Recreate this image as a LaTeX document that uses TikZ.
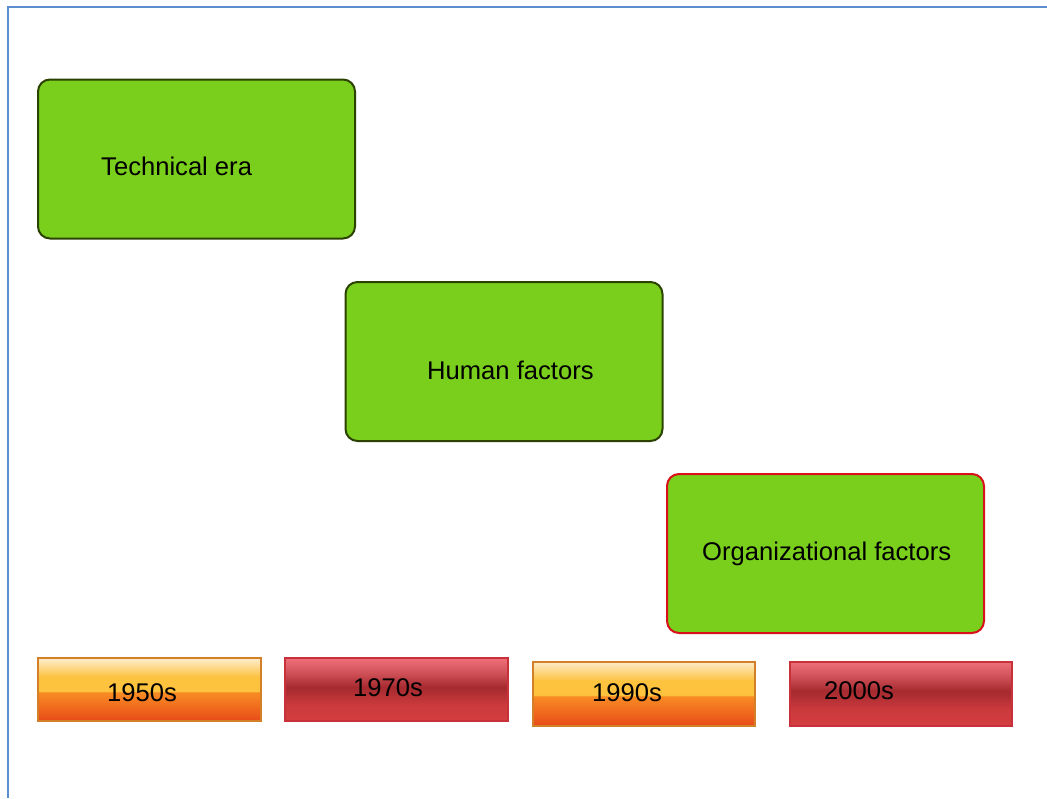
\documentclass[tikz,border=0pt]{standalone}
\usepackage{fontspec}
\setmainfont{Liberation Sans}
\definecolor{frameblue}{HTML}{5B8FD0}
\definecolor{boxgreen}{HTML}{7ACE1C}
\definecolor{darkedge}{HTML}{2B4200}
\definecolor{rededge}{HTML}{D8101A}
\definecolor{obot}{HTML}{E84A18}
\definecolor{olow}{HTML}{F88C24}
\definecolor{omid}{HTML}{FDC23E}
\definecolor{otop}{HTML}{FDEDCC}
\definecolor{oedge}{HTML}{D48028}
\definecolor{rbot}{HTML}{D43E40}
\definecolor{rmid}{HTML}{A52A2F}
\definecolor{rup}{HTML}{D2525A}
\definecolor{rtop}{HTML}{EE7078}
\definecolor{redge}{HTML}{C8303A}
\pgfdeclareverticalshading{orangebar}{100bp}{color(0bp)=(obot); color(25bp)=(obot); color(48bp)=(olow); color(49bp)=(omid); color(60bp)=(omid); color(75bp)=(otop); color(100bp)=(otop)}
\pgfdeclareverticalshading{redbar}{100bp}{color(0bp)=(rbot); color(25bp)=(rbot); color(38bp)=(rbot!80!rmid); color(52bp)=(rmid); color(64bp)=(rup); color(75bp)=(rtop); color(100bp)=(rtop)}
\tikzset{
  era/.style={draw=darkedge, line width=2pt, fill=boxgreen, rounded corners=12pt, minimum width=317pt, minimum height=159pt, anchor=north west, inner sep=0pt, outer sep=0pt},
  eratext/.style={font=\fontsize{25.6}{30}\selectfont, anchor=base west, inner sep=0pt},
  orangebox/.style={draw=oedge, line width=2pt, shading=orangebar, minimum width=223pt, minimum height=63pt, anchor=north west, inner sep=0pt, outer sep=0pt},
  redbox/.style={draw=redge, line width=2pt, shading=redbar, minimum width=223pt, minimum height=63pt, anchor=north west, inner sep=0pt, outer sep=0pt},
}
\begin{document}
\begin{tikzpicture}[x=1pt,y=-1pt]
\useasboundingbox (0,0) rectangle (1047,798);
\coordinate (ftop) at (1047,6.5);
\coordinate (fcorner) at (7.5,6.5);
\coordinate (fbot) at (7.5,798);
\draw[frameblue, line width=2pt] (ftop) -- (fcorner) -- (fbot);
% era boxes
\node[era] (tech) at (38,79.5) {};
\node[era] (human) at (345.5,282) {};
\node[era, draw=rededge] (org) at (667,474) {};
\node[eratext] (techlbl) at (101,175) {Technical era};
\node[eratext] (humanlbl) at (427,379) {Human factors};
\node[eratext] (orglbl) at (702,560) {Organizational factors};
% decade bars
\node[orangebox] (d1950) at (38.3,658.3) {};
\node[redbox] (d1970) at (285.3,658.3) {};
\node[orangebox, minimum height=64.5pt, minimum width=222pt] (d1990) at (532.5,661.5) {};
\node[redbox, minimum height=64.5pt, minimum width=222pt] (d2000) at (790,661.5) {};
\node[eratext] (l1950) at (107,701) {1950s};
\node[eratext] (l1970) at (353,696) {1970s};
\node[eratext] (l1990) at (592,701) {1990s};
\node[eratext] (l2000) at (824,699) {2000s};
\end{tikzpicture}
\end{document}
